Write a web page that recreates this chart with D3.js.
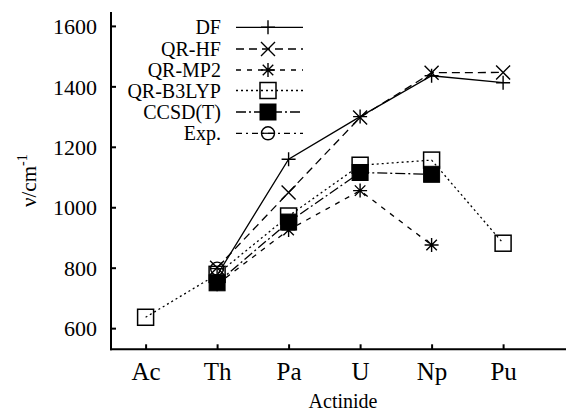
<!DOCTYPE html>
<html>
<head>
<meta charset="utf-8">
<script src="https://cdn.jsdelivr.net/npm/d3@7"></script>
<style>
html,body{margin:0;padding:0;background:#fff;}
svg{display:block;}
svg text{font-family:"Liberation Serif","Times New Roman",Tinos,"DejaVu Serif",serif !important;fill:#000;}
</style>
</head>
<body>
<script>
const categories = ["Ac","Th","Pa","U","Np","Pu"];
const yTicks = [600,800,1000,1200,1400,1600];
const seriesNames = ["DF","QR-HF","QR-MP2","QR-B3LYP","CCSD(T)","Exp."];
const dfValues     = [null, 775, 1159, 1300, 1435, 1412];
const qrhfValues   = [null, 800, 1049, 1297, 1445, 1446];
const qrmp2Values  = [null, 745, 925, 1055, 875, null];
const qrb3lypValues= [636, 778, 971, 1139, 1156, 881];
const ccsdtValues  = [null, 750, 951, 1115, 1109, null];
const expValues    = [null, 797, null, null, null, null];

const W = 566, H = 411;
const FONT = '"Liberation Serif","Times New Roman",Tinos,"DejaVu Serif",serif';
const svg = d3.select("body").append("svg").attr("width", W).attr("height", H);

const x = d3.scalePoint().domain(categories).range([145.6, 503.1]).padding(0);
const y = d3.scaleLinear().domain([530, 1646]).range([349.3, 12]);

const styles = {
  "DF":      {dash: null,          marker: "plus"},
  "QR-HF":   {dash: "8,5",         marker: "cross"},
  "QR-MP2":  {dash: "5,6",         marker: "star"},
  "QR-B3LYP":{dash: "2,3",         marker: "square"},
  "CCSD(T)": {dash: "10,3,2,3",    marker: "fsquare"},
  "Exp.":    {dash: "6,4,2,4",     marker: "circle"}
};
const seriesData = [dfValues, qrhfValues, qrmp2Values, qrb3lypValues, ccsdtValues, expValues];

function drawMarker(g, type, cx, cy) {
  const s = 7;
  if (type === "plus") {
    g.append("path").attr("d", `M${cx-s},${cy}H${cx+s}M${cx},${cy-s}V${cy+s}`)
      .attr("stroke","#000").attr("stroke-width",1.4).attr("fill","none");
  } else if (type === "cross") {
    g.append("path").attr("d", `M${cx-s},${cy-s}L${cx+s},${cy+s}M${cx-s},${cy+s}L${cx+s},${cy-s}`)
      .attr("stroke","#000").attr("stroke-width",1.4).attr("fill","none");
  } else if (type === "star") {
    g.append("path").attr("d", `M${cx-s},${cy}H${cx+s}M${cx},${cy-s}V${cy+s}M${cx-s*0.75},${cy-s*0.75}L${cx+s*0.75},${cy+s*0.75}M${cx-s*0.75},${cy+s*0.75}L${cx+s*0.75},${cy-s*0.75}`)
      .attr("stroke","#000").attr("stroke-width",1.4).attr("fill","none");
  } else if (type === "square") {
    g.append("rect").attr("x",cx-8).attr("y",cy-8).attr("width",16).attr("height",16)
      .attr("stroke","#000").attr("stroke-width",1.5).attr("fill","none");
  } else if (type === "fsquare") {
    g.append("rect").attr("x",cx-8).attr("y",cy-8).attr("width",16).attr("height",16)
      .attr("stroke","#000").attr("stroke-width",1).attr("fill","#000");
  } else if (type === "circle") {
    g.append("circle").attr("cx",cx).attr("cy",cy).attr("r",6.5)
      .attr("stroke","#000").attr("stroke-width",1.4).attr("fill","none");
    g.append("line").attr("x1",cx-6.5).attr("x2",cx+6.5).attr("y1",cy).attr("y2",cy)
      .attr("stroke","#000").attr("stroke-width",1.2);
  }
}

// axes
const yAxis = d3.axisLeft(y).tickValues(yTicks).tickSize(-5).tickPadding(14).tickFormat(d3.format("d"));
const gy = svg.append("g").attr("transform","translate(111,0)").call(yAxis).attr("font-family", FONT);
gy.select(".domain").remove();
gy.selectAll(".tick line").attr("stroke","#000").attr("stroke-width",2);
gy.selectAll(".tick text").attr("font-size",22).style("font-family",FONT).attr("dy","0.35em");
svg.append("line").attr("x1",111).attr("x2",111).attr("y1",12).attr("y2",350.3).attr("stroke","#000").attr("stroke-width",2);

const xAxis = d3.axisBottom(x).tickSize(-5).tickPadding(13);
const gx = svg.append("g").attr("transform","translate(0,349.3)").call(xAxis).attr("font-family", FONT);
gx.select(".domain").remove();
gx.selectAll(".tick line").attr("stroke","#000").attr("stroke-width",2);
gx.selectAll(".tick text").attr("font-size",25).style("font-family",FONT).attr("dy","0.71em");
svg.append("line").attr("x1",110).attr("x2",566).attr("y1",349.3).attr("y2",349.3).attr("stroke","#000").attr("stroke-width",2);

svg.append("text").attr("x",343).attr("y",408).attr("text-anchor","middle").attr("font-size",20).style("font-family",FONT).text("Actinide");
const yl = svg.append("text").attr("transform","translate(36,207) rotate(-90)").attr("font-size",21).style("font-family",FONT);
yl.append("tspan").text("ν/cm");
yl.append("tspan").attr("dy",-9).attr("font-size",14).text("-1");

// series lines
const plot = svg.append("g");
seriesNames.forEach((name,i) => {
  const vals = seriesData[i];
  const pts = categories.map((c,j)=>({c, v: vals[j]})).filter(d=>d.v!=null);
  const line = d3.line().x(d=>x(d.c)).y(d=>y(d.v));
  if (pts.length > 1) {
    plot.append("path").datum(pts).attr("d", line)
      .attr("fill","none").attr("stroke","#000").attr("stroke-width",1.3)
      .attr("stroke-dasharray", styles[name].dash);
  }
});
// markers
seriesNames.forEach((name,i) => {
  const vals = seriesData[i];
  categories.forEach((c,j)=>{
    if (vals[j]!=null) drawMarker(plot, styles[name].marker, x(c), y(vals[j]));
  });
});

// legend
const legendRows = [27.3, 49, 70, 90.5, 112, 133.3];
const lg = svg.append("g");
seriesNames.forEach((name,i) => {
  const ly = legendRows[i];
  lg.append("text").attr("x",221).attr("y",ly).attr("dy","0.35em").attr("text-anchor","end").attr("font-size",20).style("font-family",FONT).text(name);
  lg.append("line").attr("x1",236).attr("x2",303).attr("y1",ly).attr("y2",ly)
    .attr("stroke","#000").attr("stroke-width",1.3).attr("stroke-dasharray", styles[name].dash);
  drawMarker(lg, styles[name].marker, 268, ly);
});
</script>
</body>
</html>
